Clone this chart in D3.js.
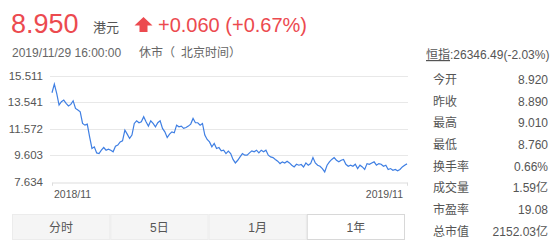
<!DOCTYPE html>
<html lang="zh">
<head>
<meta charset="utf-8">
<title>8.950 港元</title>
<script src="https://cdn.jsdelivr.net/npm/d3@7"></script>
<style>
body { margin: 0; background: #fff; }
svg { display: block; font-family: "Liberation Sans", Arial, "Noto Sans CJK SC", sans-serif; }
.grid line { stroke: #e8e8e8; }
.ylab { fill: #555; font-size: 11.5px; }
.xlab { fill: #555; font-size: 10.5px; }
.info { fill: #555; font-size: 12px; }
</style>
</head>
<body>
<svg width="560" height="243"></svg>
<script>
// price series, one year of closes
var prices = [14.26, 14.91, 14.22, 13.34, 13.59, 13.71, 13.47, 13.27, 13.39, 13.66, 13.09, 12.97, 12.84, 11.97, 11.84, 11.92, 10.97, 10.10, 10.22, 9.77, 9.72, 9.97, 10.17, 9.97, 10.05, 9.97, 9.85, 10.27, 10.35, 10.59, 10.67, 11.47, 11.17, 10.85, 11.10, 11.97, 12.17, 12.02, 12.09,
  12.47, 12.09, 11.77, 12.17, 11.97, 11.72, 12.02, 12.17, 11.60, 11.34, 10.92, 11.17, 11.34, 11.27, 11.84, 11.72, 11.77, 11.60, 11.67, 11.77, 11.92, 12.34, 12.02, 12.02, 11.84, 11.97, 11.10, 10.77, 10.59, 10.22, 10.47, 10.10, 10.17, 9.92, 9.97, 9.72, 9.90, 9.72, 9.28, 9.02, 9.22,
  9.47, 9.72, 9.60, 9.60, 9.77, 9.92, 9.85, 9.97, 9.77, 9.97, 9.85, 9.97, 9.60, 9.47, 9.42, 9.28, 9.15, 8.97, 9.10, 9.02, 9.15, 9.02, 8.85, 8.72, 8.92, 8.85, 8.90, 8.72, 9.02, 8.85, 8.97, 9.42, 9.02, 8.85, 8.77, 8.60, 8.35,
  8.85, 9.10, 9.28, 9.42, 9.22, 9.10, 9.22, 9.28, 8.92, 8.77, 8.85, 8.77, 8.92, 8.60, 8.85, 8.72, 8.53, 8.97, 8.92, 9.02, 9.10, 8.85, 8.97, 8.92, 8.77, 8.85, 8.53, 8.60, 8.47, 8.53, 8.43, 8.53, 8.72, 8.85, 8.95];
var yTicks = [15.511, 13.541, 11.572, 9.603, 7.634];
var xLabels = ["2018/11", "2019/11"];
var tabs = ["分时", "5日", "1月", "1年"];
var infoNames = ["今开", "昨收", "最高", "最低", "换手率", "成交量", "市盈率", "总市值"];
var infoValues = ["8.920", "8.890", "9.010", "8.760", "0.66%", "1.59亿", "19.08", "2152.03亿"];
var infoKind = ["up", "flat", "up", "down", "flat", "flat", "flat", "flat"];

var red = "#ec4a4f", green = "#4c9a48";
var svg = d3.select("svg");

// header
svg.append("text").attr("x", 11).attr("y", 33).attr("fill", red)
    .attr("font-size", "27px").text("8.950");
svg.append("text").attr("x", 93).attr("y", 32).attr("fill", "#555")
    .attr("font-size", "13px").text("港元");
svg.append("path").attr("fill", red)
    .attr("d", "M143.5,17 L152.5,25.5 L147.5,25.5 L147.5,32 L139.5,32 L139.5,25.5 L134.5,25.5 Z");
svg.append("text").attr("x", 158).attr("y", 32).attr("fill", red)
    .attr("font-size", "20px").text("+0.060 (+0.67%)");
// status line, pieces placed so the spacing matches
[["2019/11/29 16:00:00", 12], ["休市", 139], ["（", 163], ["北京时间", 181], ["）", 229]].forEach(function(p) {
  svg.append("text").attr("x", p[1]).attr("y", 57).attr("fill", "#666")
      .attr("font-size", "12px").text(p[0]);
});

// chart
var x = d3.scaleLinear().domain([0, prices.length - 1]).range([52, 407]);
var y = d3.scaleLinear().domain([yTicks[4], yTicks[0]]).range([181.5, 76]);

svg.append("g").attr("class", "grid")
  .selectAll("line").data(yTicks.slice(0, 4)).enter().append("line")
    .attr("x1", 50).attr("x2", 408)
    .attr("y1", function(d) { return Math.round(y(d)) + 0.5; })
    .attr("y2", function(d) { return Math.round(y(d)) + 0.5; });

var xa = svg.append("g").attr("transform", "translate(0," + (Math.round(y(yTicks[4])) + 0.5) + ")")
  .call(d3.axisBottom(x).tickValues([0, prices.length - 1]).tickSize(3).tickFormat(""));
xa.select(".domain").attr("stroke", "#ddd");
xa.selectAll(".tick line").attr("stroke", "#ddd");

svg.selectAll(".ylab").data(yTicks).enter().append("text")
    .attr("class", "ylab").attr("x", 43).attr("text-anchor", "end")
    .attr("y", function(d) { return y(d) + 4; })
    .text(function(d) { return d3.format(".3f")(d); });

svg.append("text").attr("class", "xlab").attr("x", x(0) + 2).attr("y", 198).text(xLabels[0]);
svg.append("text").attr("class", "xlab").attr("x", x(prices.length - 1) - 4).attr("y", 198)
    .attr("text-anchor", "end").text(xLabels[1]);

svg.append("path").datum(prices)
    .attr("fill", "none").attr("stroke", "#3f7fe3").attr("stroke-width", 1.2)
    .attr("d", d3.line().x(function(d, i) { return x(i); }).y(function(d) { return y(d); }));

// tabs
var tx = d3.scaleBand().domain(tabs).range([12, 405]);
var tg = svg.selectAll(".tab").data(tabs).enter().append("g")
    .attr("transform", function(d) { return "translate(" + tx(d) + ",214)"; });
tg.append("rect").attr("x", 0.5).attr("y", 0.5)
    .attr("width", tx.bandwidth() - 1).attr("height", 25)
    .attr("fill", function(d, i) { return i == 3 ? "#fff" : "#f5f5f5"; })
    .attr("stroke", function(d, i) { return i == 3 ? "#d8d8d8" : "#ececec"; });
tg.append("text").attr("x", tx.bandwidth() / 2).attr("y", 17.5)
    .attr("text-anchor", "middle").attr("fill", "#555").attr("font-size", "12px")
    .text(function(d) { return d; });

// right info panel
var hs = svg.append("text").attr("class", "info").attr("x", 426).attr("y", 59).attr("fill", "#444");
hs.append("tspan").attr("text-decoration", "underline").text("恒指");
hs.append("tspan").text(":26346.49(-2.03%)");

var ry = d3.scalePoint().domain(infoNames).range([79.5, 231]);
svg.selectAll(".iname").data(infoNames).enter().append("text")
    .attr("class", "info").attr("x", 433)
    .attr("y", function(d) { return ry(d) + 4.5; })
    .text(function(d) { return d; });
svg.selectAll(".ival").data(infoValues).enter().append("text")
    .attr("class", "info").attr("x", 548).attr("text-anchor", "end")
    .attr("y", function(d, i) { return ry(infoNames[i]) + 4.5; })
    .attr("fill", function(d, i) { return infoKind[i] == "up" ? red : infoKind[i] == "down" ? green : "#555"; })
    .text(function(d) { return d; });
</script>
</body>
</html>
